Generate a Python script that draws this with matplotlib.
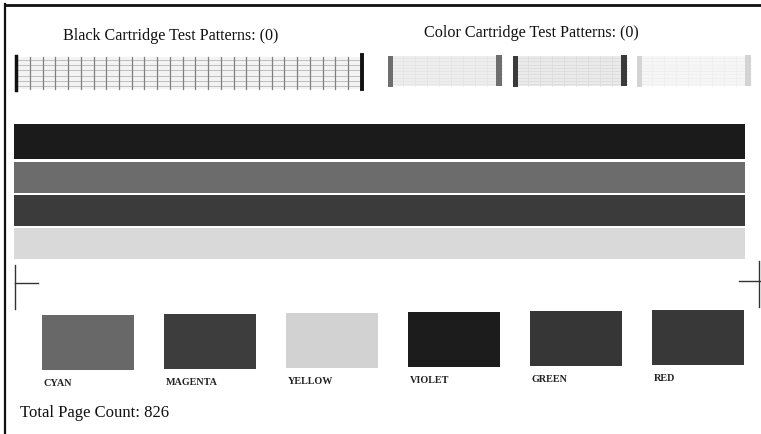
import numpy as np
import matplotlib.pyplot as plt
from matplotlib.patches import Rectangle

# test page content
black_title = "Black Cartridge Test Patterns: (0)"
color_title = "Color Cartridge Test Patterns: (0)"
page_count = "Total Page Count: 826"

band_grays = ['#1b1b1b', '#6c6c6c', '#3b3b3b', '#d9d9d9']
swatch_labels = ['CYAN', 'MAGENTA', 'YELLOW', 'VIOLET', 'GREEN', 'RED']
swatch_grays = ['#686868', '#3d3d3d', '#d2d2d2', '#1c1c1c', '#363636', '#383838']
block_edge_grays = ['#6e6e6e', '#3a3a3a', '#d4d4d4']
block_fill_grays = ['#e4e4e4', '#dcdcdc', '#f0f0f0']

plt.rcParams['font.family'] = ['Liberation Serif', 'DejaVu Serif']

fig = plt.figure(figsize=(7.61, 4.35), dpi=100)
ax = fig.add_axes([0, 0, 1, 1])
ax.set_xlim(0, 761)
ax.set_ylim(435, 0)
ax.axis('off')

### page border (left + top)
ax.plot([5, 5], [5, 435], color='#111111', lw=1.6)
ax.plot([5, 761], [5.5, 5.5], color='#111111', lw=2)

### titles
ax.text(63, 36, black_title, fontsize=11.6, va='center', ha='left', color='#111111')
ax.text(424, 33, color_title, fontsize=11.6, va='center', ha='left', color='#111111')

### black cartridge grid pattern
gx0, gx1, gy0, gy1 = 17, 361, 58, 90
ax.add_patch(Rectangle((gx0, gy0), gx1 - gx0, gy1 - gy0, color='#f3f3f3', lw=0))
for yy in np.linspace(gy0 + 3, gy1 - 3, 6):
    ax.plot([gx0, gx1], [yy, yy], color='#b5b5b5', lw=0.6)
for xx in np.linspace(gx0 + 13, gx1 - 13, 26):
    ax.plot([xx, xx], [gy0, gy1], color='#808080', lw=0.9)
ax.plot([16, 16], [57, 91], color='#111111', lw=2.5)
ax.plot([361.5, 361.5], [56, 90], color='#111111', lw=2.8)

### color cartridge blocks
for i in range(3):
    bx0 = 388 + 124.5 * i
    bx1 = bx0 + 114
    ax.add_patch(Rectangle((bx0, 57), bx1 - bx0, 30, color=block_fill_grays[i], lw=0, alpha=0.6))
    for yy in np.linspace(59, 85, 9):
        ax.plot([bx0, bx1], [yy, yy], color=block_fill_grays[i], lw=0.6)
    for xx in np.linspace(bx0 + 15, bx1 - 15, 8):
        ax.plot([xx, xx], [57, 87], color=block_fill_grays[i], lw=0.6)
    ax.add_patch(Rectangle((bx0, 57), 5, 31, color=block_edge_grays[i], lw=0, zorder=5))
    ax.add_patch(Rectangle((bx1 - 6, 56), 6, 31, color=block_edge_grays[i], lw=0, zorder=5))

### wide colour bands
band_tops = [125, 163, 196, 229]
band_heights = [35, 31, 31, 31]
for top, h, c in zip(band_tops, band_heights, band_grays):
    ax.barh(top + h / 2, 731, height=h, left=14, color=c, lw=0)

### crop marks
ax.plot([15, 15], [266, 310], color='#333333', lw=1)
ax.plot([15, 38], [284, 284], color='#333333', lw=1)
ax.plot([759, 759], [262, 308], color='#333333', lw=1)
ax.plot([739, 761], [282, 282], color='#333333', lw=1)

### colour swatches
xs = 88 + 122 * np.arange(len(swatch_labels))
tops = 316 - np.arange(len(swatch_labels))
ax.bar(xs, 55, bottom=tops, width=92, color=swatch_grays, lw=0)
for x, t, lab in zip(xs, tops, swatch_labels):
    ax.text(x - 44, t + 68, lab, fontsize=7.3, fontweight='bold', va='center', ha='left',
            color='#222222')

ax.text(20, 413, page_count, fontsize=12, va='center', ha='left', color='#111111')

fig.savefig('out.png', dpi=100, facecolor='white')
